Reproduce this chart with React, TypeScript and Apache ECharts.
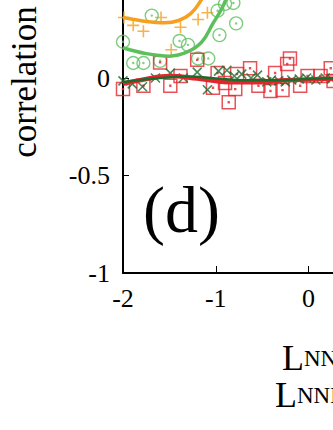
import React, { useEffect, useRef } from "react";
import * as echarts from "echarts";

const xTicks = [-2, -1, 0, 1, 2];
const yTicks = [-1, -0.5, 0, 0.5, 1];
const yTitle = "correlation";

const orangePts: [number, number][] = [
  [-1.99, 0.31], [-1.89, 0.27], [-1.78, 0.24], [-1.59, 0.31], [-1.48, 0.145],
  [-1.38, 0.26], [-1.19, 0.3], [-1.09, 0.335], [-1.0, 0.5], [-0.9, 0.62],
];
const orangeLine: [number, number][] = [
  [-2, 0.31], [-1.75, 0.29], [-1.55, 0.283], [-1.4, 0.295], [-1.27, 0.33],
  [-1.17, 0.39], [-1.08, 0.47], [-0.95, 0.6], [-0.7, 0.78], [-0.3, 0.88], [0.3, 0.92],
];

const greenPts: [number, number][] = [
  [-2.0, 0.186], [-1.89, 0.077], [-1.78, 0.077], [-1.69, 0.32], [-1.6, 0.088],
  [-1.39, 0.19], [-1.3, 0.17], [-1.19, 0.1], [-1.08, 0.1], [-0.98, 0.345],
  [-0.96, 0.22], [-0.9, 0.38], [-0.81, 0.385], [-0.78, 0.28], [-0.7, 0.55], [-0.5, 0.7],
];
const greenLine: [number, number][] = [
  [-2, 0.155], [-1.75, 0.125], [-1.5, 0.112], [-1.3, 0.135], [-1.15, 0.185],
  [-1.03, 0.28], [-0.93, 0.36], [-0.85, 0.45], [-0.7, 0.6], [-0.4, 0.75], [0.3, 0.85],
];

const redPts: [number, number][] = [
  [-2.0, -0.057], [-1.78, -0.04], [-1.6, 0.08], [-1.49, -0.04], [-1.38, 0.01],
  [-1.2, 0.093], [-1.03, -0.05], [-0.98, 0.026], [-0.9, -0.026], [-0.86, -0.124],
  [-0.79, -0.057], [-0.77, 0.02], [-0.63, 0.05], [-0.54, -0.04], [-0.41, -0.067],
  [-0.36, 0.026], [-0.28, -0.062], [-0.23, 0.072], [-0.2, 0.1], [-0.09, -0.04],
  [-0.01, 0.01], [0.13, 0.01], [0.24, 0.05], [0.27, -0.015],
];
const redLine: [number, number][] = [
  [-2, -0.03], [-1.75, -0.005], [-1.5, 0.01], [-1.2, -0.003], [-0.85, -0.022],
  [-0.5, -0.022], [-0.25, -0.012], [0.3, -0.003], [0.8, 0],
];

const darkPts: [number, number][] = [
  [-2, -0.015], [-1.9, -0.03], [-1.79, -0.045], [-1.65, 0.0], [-1.49, 0.025],
  [-1.35, 0.0], [-1.2, 0.03], [-1.09, -0.06], [-0.97, 0.035], [-0.88, 0.04],
  [-0.8, 0.01], [-0.72, 0.02], [-0.62, 0.0], [-0.55, 0.015], [-0.45, -0.02],
  [-0.4, -0.01], [-0.32, -0.015], [-0.25, -0.02], [-0.18, -0.01], [-0.1, -0.005],
  [-0.02, 0.0], [0.08, -0.01], [0.18, 0.0], [0.25, -0.005],
];
const darkLine: [number, number][] = [
  [-2, -0.02], [-1.6, 0.0], [-1.3, 0.008], [-1.0, -0.002], [-0.7, -0.012],
  [-0.4, -0.012], [0, -0.005], [0.4, 0],
];

const ORANGE = "#f5a01e";
const LGREEN = "#5cbf5c";
const DGREEN = "#1c6b2c";
const RED = "#e3262e";
const FONT = "Liberation Serif";

const PLUS = "path://M0,5L10,5M5,0L5,10";
const CROSS = "path://M0,0L10,10M10,0L0,10";
const CIRCDOT =
  "path://M0,10A10,10 0 1,0 20,10A10,10 0 1,0 0,10ZM9.2,10A0.8,0.8 0 1,0 10.8,10A0.8,0.8 0 1,0 9.2,10Z";
const SQDOT = "path://M0,0L20,0L20,20L0,20ZM9.3,9.3L10.7,9.3L10.7,10.7L9.3,10.7Z";

export default function App() {
  const ref = useRef<HTMLDivElement>(null);
  useEffect(() => {
    if (!ref.current) return;
    const chart = echarts.init(ref.current, undefined, { renderer: "svg" });
    const scatter = (data: [number, number][], symbol: string, size: number, color: string, bw: number) => ({
      type: "scatter",
      data,
      symbol,
      symbolSize: size,
      itemStyle: { color: "rgba(0,0,0,0)", borderColor: color, borderWidth: bw },
      silent: true,
    });
    const line = (data: [number, number][], color: string, w: number) => ({
      type: "line",
      data,
      smooth: 0.4,
      showSymbol: false,
      lineStyle: { color, width: w },
      silent: true,
    });
    chart.setOption({
      animation: false,
      grid: {
        left: 123,
        right: -161,
        top: -117,
        bottom: 157,
        containLabel: false,
        outerBoundsMode: "none",
      },
      xAxis: {
        type: "value",
        min: xTicks[0],
        max: xTicks[xTicks.length - 1],
        interval: 1,
        axisLine: { onZero: false, lineStyle: { color: "#000", width: 2 } },
        axisTick: { inside: true, length: 7, lineStyle: { color: "#000", width: 1 } },
        axisLabel: { color: "#000", fontFamily: FONT, fontSize: 26, margin: 12 },
        splitLine: { show: false },
      },
      yAxis: {
        type: "value",
        min: yTicks[0],
        max: yTicks[yTicks.length - 1],
        interval: 0.5,
        axisLine: { onZero: false, lineStyle: { color: "#000", width: 2 } },
        axisTick: { inside: true, length: 6, lineStyle: { color: "#000", width: 1 } },
        axisLabel: {
          color: "#000",
          fontFamily: FONT,
          fontSize: 26,
          margin: 13,
          formatter: (v: number) => (v > 0.1 ? "" : String(v)),
        },
        splitLine: { show: false },
      },
      graphic: [
        {
          type: "text",
          x: 24,
          y: 82,
          rotation: Math.PI / 2,
          style: {
            text: yTitle,
            font: `35px '${FONT}'`,
            fill: "#000",
            align: "center",
            verticalAlign: "middle",
          },
        },
        {
          type: "text",
          left: 143,
          top: 176,
          style: { text: "(d)", font: `66px '${FONT}'`, fill: "#000" },
        },
        {
          type: "text",
          x: 282,
          y: 376,
          style: {
            text: "{a|L}{b|NN}",
            fill: "#000",
            verticalAlign: "bottom",
            rich: {
              a: { fontFamily: FONT, fontSize: 36, color: "#000" },
              b: { fontFamily: FONT, fontSize: 23, color: "#000" },
            },
          },
        },
        {
          type: "text",
          x: 275,
          y: 413,
          style: {
            text: "{a|L}{b|NNN}",
            fill: "#000",
            verticalAlign: "bottom",
            rich: {
              a: { fontFamily: FONT, fontSize: 36, color: "#000" },
              b: { fontFamily: FONT, fontSize: 23, color: "#000" },
            },
          },
        },
      ],
      series: [
        scatter(orangePts, PLUS, 12, ORANGE, 1.6),
        scatter(greenPts, CIRCDOT, 13, LGREEN, 1.4),
        line(orangeLine, ORANGE, 3.5),
        line(greenLine, LGREEN, 3.5),
        scatter(redPts, SQDOT, 13, RED, 1.5),
        scatter(darkPts, CROSS, 9, DGREEN, 1.6),
        line(redLine, RED, 4.5),
        line(darkLine, DGREEN, 2.5),
      ],
    });
    return () => chart.dispose();
  }, []);
  return (
    <div
      ref={ref}
      style={{ position: "fixed", left: 0, top: 0, width: 333, height: 430, background: "#fff" }}
    />
  );
}
